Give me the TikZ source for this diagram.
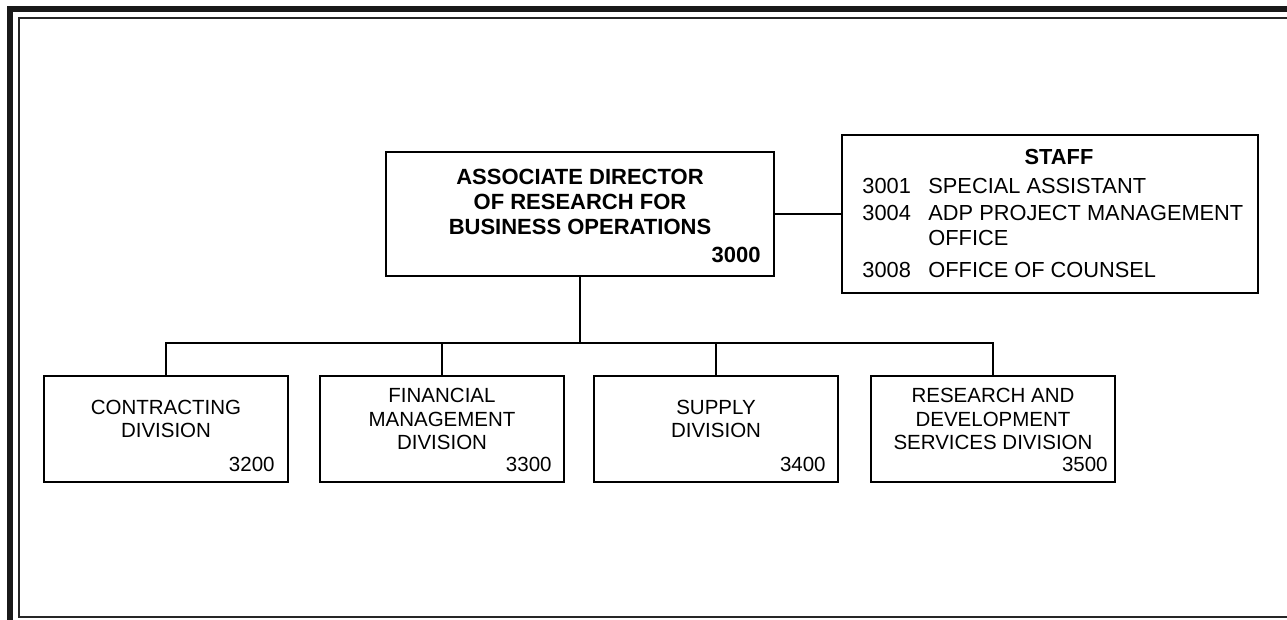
\documentclass[tikz,border=0pt]{standalone}
\usepackage{fontspec}
\setmainfont{Liberation Sans}
\usetikzlibrary{positioning}

\tikzset{
  orgbox/.style={draw, line width=1pt, inner sep=0pt},
  divbox/.style={orgbox, minimum width=122pt, minimum height=53pt},
  divtext/.style={align=center, inner sep=0pt, font=\fontsize{10.25}{11.6}\selectfont},
  divnum/.style={anchor=base east, inner sep=0pt, font=\fontsize{10.25}{11.6}\selectfont},
  stafftext/.style={anchor=base west, inner sep=0pt, font=\fontsize{10.9}{12}\selectfont},
  link/.style={line width=0.9pt},
}

\begin{document}
\begin{tikzpicture}[x=0.5pt, y=-0.5pt]
\useasboundingbox (0,0) rectangle (1287,620);

% page frame
\fill[black!90] (7,6) rectangle (1287,12);
\fill[black!90] (7,6) rectangle (13,620);
\draw[line width=1pt, black!85] (1287,18) -- (19,18) -- (19,617) -- (1287,617);

% director
\draw (580,214) node (dir) [orgbox, minimum width=194pt, minimum height=62pt] {};
\draw (580,202) node (dirname) [align=center, inner sep=0pt, font=\fontsize{11}{12.5}\selectfont\bfseries]
  {ASSOCIATE DIRECTOR\\OF RESEARCH FOR\\BUSINESS OPERATIONS};
\draw (761,263) node (n3000) [divnum, font=\fontsize{11}{12.5}\selectfont\bfseries] {3000};

% staff
\draw (1050,214) node (staff) [orgbox, minimum width=208pt, minimum height=79pt] {};
\draw (1059,164.5) node (stafftitle) [anchor=base, inner sep=0pt, font=\fontsize{10.9}{12}\selectfont\bfseries] {STAFF};
\draw (862,194) node (s3001) [stafftext] {3001};
\draw (928,194) node (s3001t) [stafftext] {SPECIAL ASSISTANT};
\draw (862,220.5) node (s3004) [stafftext] {3004};
\draw (928,220.5) node (s3004t) [stafftext] {ADP PROJECT MANAGEMENT};
\draw (928,245.5) node (s3004u) [stafftext] {OFFICE};
\draw (862,277.5) node (s3008) [stafftext] {3008};
\draw (928,277.5) node (s3008t) [stafftext] {OFFICE OF COUNSEL};
\draw[link] (dir) -- (staff);

% divisions
\draw (166,429) node (contr) [divbox] {};
\draw (166,419) node (contrname) [divtext] {CONTRACTING\\DIVISION};
\draw (275,472) node (n3200) [divnum] {3200};

\draw (442,429) node (finan) [divbox] {};
\draw (442,419) node (finanname) [divtext] {FINANCIAL\\MANAGEMENT\\DIVISION};
\draw (552,472) node (n3300) [divnum] {3300};

\draw (716,429) node (suppl) [divbox] {};
\draw (716,419) node (supplname) [divtext] {SUPPLY\\DIVISION};
\draw (826,472) node (n3400) [divnum] {3400};

\draw (993,429) node (resdev) [divbox] {};
\draw (993,419) node (resdevname) [divtext] {RESEARCH AND\\DEVELOPMENT\\SERVICES DIVISION};
\draw (1108,472) node (n3500) [divnum] {3500};

\coordinate (bus) at (580,343);
\draw[link] (dir.south) -- (bus);
\draw[link] (bus) -| (contr.north);
\draw[link] (bus) -| (finan.north);
\draw[link] (bus) -| (suppl.north);
\draw[link] (bus) -| (resdev.north);
\end{tikzpicture}
\end{document}
